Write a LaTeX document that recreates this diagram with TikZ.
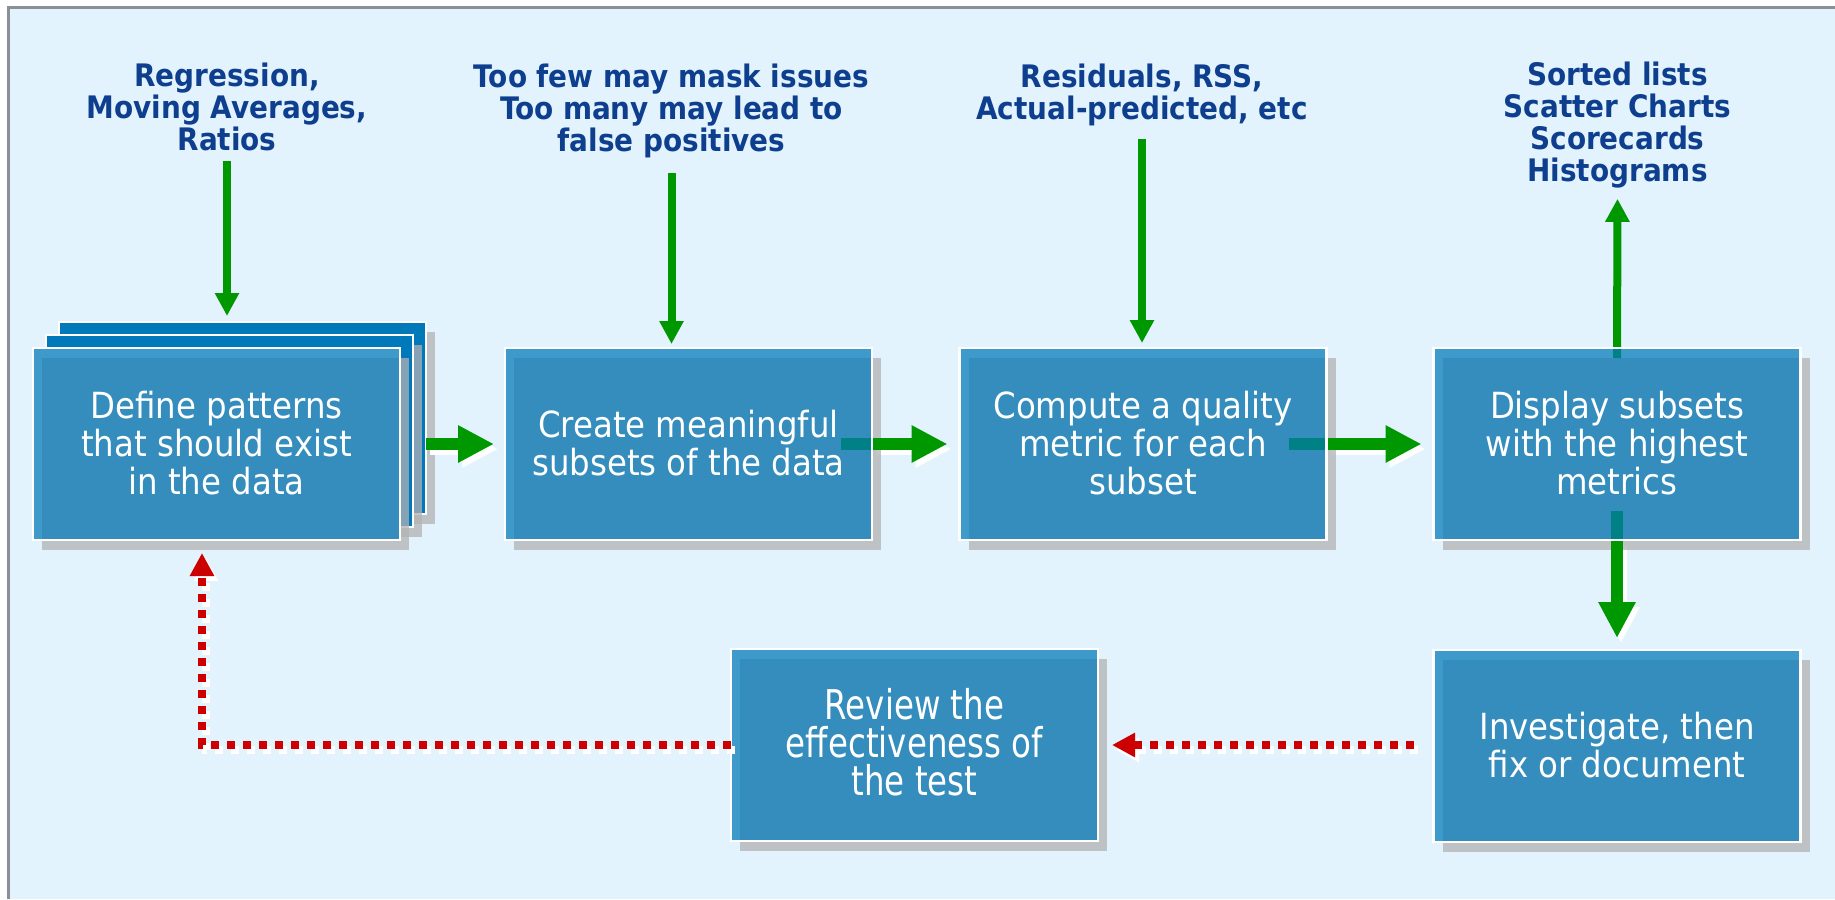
\documentclass[tikz,border=0pt]{standalone}
\usepackage{fontspec}
\usetikzlibrary{arrows.meta,shadows}
\newfontfamily\labelfont{DejaVu Sans Condensed}
\newfontfamily\boxfont{DejaVu Sans Condensed}
\newfontfamily\narrowfont{DejaVu Sans Condensed}[FakeStretch=0.88]

\definecolor{bgblue}{RGB}{227,243,254}
\definecolor{framegray}{RGB}{138,144,150}
\definecolor{boxblue}{RGB}{0,121,186}
\definecolor{shadowgray}{RGB}{178,178,178}
\definecolor{labelnavy}{RGB}{14,63,142}
\definecolor{arrowgreen}{RGB}{0,152,0}
\definecolor{loopred}{RGB}{204,0,0}

% centred caption lines of a step box, fixed line pitch
\newcommand{\stack}[1]{\vbox{\baselineskip=38pt\lineskiplimit=-\maxdimen\lineskip=0pt\let\\\cr
  \halign{\hfil\vrule height 35pt depth 10pt width 0pt##\hfil\cr#1\crcr}}}
% note lines hanging from the first baseline
\newcommand{\labelstack}[1]{\vtop{\baselineskip=32.3pt\lineskiplimit=-\maxdimen\lineskip=0pt\let\\\cr
  \halign{\hfil\vrule height 24pt depth 9.7pt width 0pt##\hfil\cr#1\crcr}}}

\pgfdeclarelayer{back}
\pgfdeclarelayer{wshade}
\pgfdeclarelayer{shade}
\pgfdeclarelayer{lines}
\pgfsetlayers{back,wshade,shade,lines,main}

\begin{document}
\begin{tikzpicture}[x=1pt,y=-1pt,
  boxshape/.style={rectangle, minimum width=367pt, minimum height=192pt, inner sep=0pt, outer sep=0pt},
  stepbox/.style={boxshape, fill=boxblue, fill opacity=0.72, text opacity=1, draw=white,
    line width=2.5pt, text=white, font=\boxfont\fontsize{36}{38}\selectfont},
  narrowbox/.style={stepbox, font=\narrowfont\fontsize{41}{38}\selectfont},
  backbox/.style={boxshape, fill=boxblue, draw=white, line width=2.5pt,
    drop shadow={shadow xshift=9pt, shadow yshift=-10pt, fill=shadowgray, opacity=0.75}},
  boxshadow/.style={fill=shadowgray, opacity=0.75},
  note/.style={anchor=base, inner sep=0pt, text=labelnavy,
    font=\labelfont\bfseries\fontsize{31}{32.3}\selectfont},
  bigarrow/.style={draw=arrowgreen, line width=12pt, -{Triangle[length=36pt,width=35pt]}, shorten >=12pt},
  thinarrow/.style={draw=arrowgreen, line width=8pt, -{Triangle[length=23pt,width=23pt]}},
  whitecopy/.style={draw=white, transform canvas={shift={(4pt,-5pt)}}},
  redloop/.style={draw=loopred, line width=8pt, dash pattern=on 8pt off 8pt,
    -{Triangle[length=23pt,width=23pt]}}
]
\useasboundingbox (0,0) rectangle (1835,899);

% ---------- page, frame and the stacked cards behind step 1 ----------
\begin{pgfonlayer}{back}
  \fill[white] (0,0) rectangle (1835,899);
  \fill[bgblue] (8.5,7.5) rectangle (1835,899);
  \draw[framegray, line width=3pt] (8.5,899) -- (8.5,7.5) -- (1835,7.5);
  \node[backbox] (b1c) at (242.5,418) {};
  \node[backbox] (b1b) at (229.5,431) {};
\end{pgfonlayer}

% ---------- process steps ----------
\node[stepbox] (b1) at (216.5,444) {\stack{Define patterns\\that should exist\\in the data}};
\node[stepbox] (b2) at (688.5,444) {\stack{Create meaningful\\subsets of the data}};
\node[stepbox] (b3) at (1143,444) {\stack{Compute a quality\\metric for each\\subset}};
\node[stepbox] (b4) at (1617,444) {\stack{Display subsets\\with the highest\\metrics}};
\node[narrowbox] (b5) at (914.5,745) {\stack{Review the\\effectiveness of\\the test}};
\node[stepbox] (b6) at (1617,746) {\stack{Investigate, then\\fix or document}};

% ---------- notes ----------
\node[note] (l1) at (227,86) {\labelstack{Regression,\\Moving Averages,\\Ratios}};
\node[note] (l2) at (671.5,87) {\labelstack{Too few may mask issues\\Too many may lead to\\false positives}};
\node[note] (l3) at (1142,87) {\labelstack{Residuals, RSS,\\Actual-predicted, etc}};
\node[note] (l4) at (1617.5,85) {\labelstack{Sorted lists\\Scatter Charts\\Scorecards\\Histograms}};

% ---------- drop shadows of the steps ----------
\begin{pgfonlayer}{shade}
  \fill[bgblue] (b1.south west) rectangle (b1.north east);
  \foreach \bx in {b1,b2,b3,b4,b5,b6}
    \fill[boxshadow] ([shift={(9pt,-10pt)}]\bx.south west) rectangle ([shift={(9pt,-10pt)}]\bx.north east);
\end{pgfonlayer}

% ---------- white offsets under the main flow arrows ----------
\begin{pgfonlayer}{wshade}
  \draw[bigarrow, whitecopy, shorten >=11pt] (b1c.east |- b1.east) -- (b2.west);
  \draw[bigarrow, whitecopy] (b2.east) -- (b3.west);
  \draw[bigarrow, whitecopy] (b3.east) -- (b4.west);
  \draw[bigarrow, whitecopy] (b4.south) -- (b6.north);
\end{pgfonlayer}

% ---------- green flow arrows ----------
\begin{pgfonlayer}{lines}
  \draw[bigarrow, shorten >=11pt] (b1c.east |- b1.east) -- (b2.west);
  \draw[bigarrow] ([xshift=-31pt]b2.east) -- (b3.west);
  \draw[bigarrow] ([xshift=-38pt]b3.east) -- (b4.west);
  \draw[bigarrow] ([yshift=29pt]b4.south) -- (b6.north);
  \draw[thinarrow, shorten >=6pt] (l1.south) -- (l1.south |- b1c.north);
  \draw[thinarrow, shorten >=4pt] ([yshift=-11pt]l2.south) -- (l2.south |- b2.north);
  \draw[thinarrow, shorten >=5pt] ([yshift=-10pt]l3.south) -- (l3.south |- b3.north);
  \draw[thinarrow] ([yshift=-10pt]b4.north) -- ([yshift=-7pt]l4.south);
\end{pgfonlayer}

% ---------- red feedback loop ----------
\coordinate (reviewin) at ([xshift=14pt]b5.east);
\coordinate (loopcorner) at (202,745);
\coordinate (b1tip) at ([yshift=-13pt]b1.south);
\draw[redloop, whitecopy] ([xshift=-20pt]b6.west |- reviewin) -- (reviewin);
\draw[redloop, whitecopy] (b5.west) -- (loopcorner) -- (loopcorner |- b1tip);
\draw[redloop] ([xshift=-20pt]b6.west |- reviewin) -- (reviewin);
\draw[redloop] (b5.west) -- (loopcorner) -- (loopcorner |- b1tip);
\end{tikzpicture}
\end{document}
